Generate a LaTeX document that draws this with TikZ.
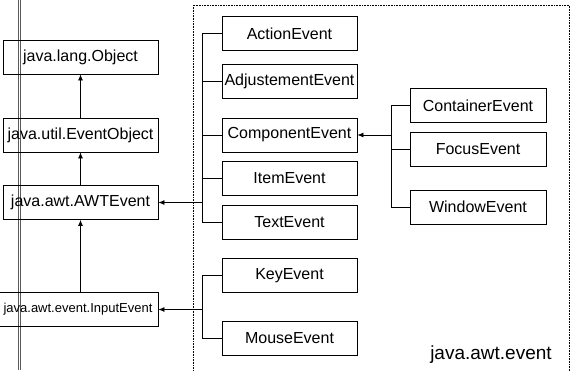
\documentclass[tikz,border=0pt]{standalone}
\usepackage{fontspec}
\setmainfont{Liberation Sans}
\usepackage{tikz}
\usetikzlibrary{arrows.meta, positioning}

\begin{document}
\begin{tikzpicture}[
    x=1pt, y=-1pt,
    line width=0.8pt,
    box/.style={rectangle, draw=black, minimum width=135pt, minimum height=34pt, inner sep=0pt, font=\fontsize{16}{18}\selectfont},
    basebox/.style={box, minimum width=155pt},
    subbox/.style={box, minimum width=136pt},
    arrow/.style={-{Latex[length=6pt,width=5pt]}}
]
\useasboundingbox (0,0) rectangle (571,370);

% page margin of the scan
\draw[gray!70!black, line width=0.7pt] (18.5,0) -- (18.5,370);
\draw[gray!70!black, line width=0.7pt] (20.7,0) -- (20.7,370);

% package frame
\draw[densely dotted, line width=0.6pt] (193,372) -- (193,5) -- (569.5,5) -- (569.5,372);
\node[font=\fontsize{19}{21}\selectfont] (pkg) at (491,355) {java.awt.event};

% base classes
\node[basebox] (object) at (80.5,57) {java.lang.Object};
\node[basebox] (eventobj) at (80.5,135) {java.util.EventObject};
\node[basebox] (awt) at (80.5,202.5) {java.awt.AWTEvent};
\node[basebox, minimum width=160pt, font=\fontsize{13}{15}\selectfont] (input) at (78,309.5) {java.awt.event.InputEvent};

% event classes
\node[box] (action) at (289.5,33.5) {ActionEvent};
\node[box] (adjust) at (289.5,81) {AdjustementEvent};
\node[box] (component) at (289.5,135) {ComponentEvent};
\node[box] (item) at (289.5,178.5) {ItemEvent};
\node[box] (text) at (289.5,222) {TextEvent};
\node[box] (key) at (289.5,275.5) {KeyEvent};
\node[box] (mouse) at (289.5,338) {MouseEvent};

\node[subbox] (container) at (478,105.5) {ContainerEvent};
\node[subbox] (focus) at (478,149.5) {FocusEvent};
\node[subbox] (window) at (478,207) {WindowEvent};

\coordinate (busA) at (202,0);
\coordinate (busC) at (391,0);

% inheritance
\draw[arrow] (eventobj) -- (object);
\draw[arrow] (awt) -- (eventobj);
\draw[arrow] (input.north -| awt.south) -- (awt.south);

\foreach \n in {action,adjust,component,item,text,key,mouse}
    \draw (\n.west) -- (\n.west -| busA);
\draw (busA |- action.west) -- (busA |- text.west);
\draw[arrow] (awt.east -| busA) -- (awt.east);
\draw (busA |- key.west) -- (busA |- mouse.west);
\draw[arrow] (input.east -| busA) -- (input.east);

\foreach \n in {container,focus,window}
    \draw (\n.west) -- (\n.west -| busC);
\draw (busC |- container.west) -- (busC |- window.west);
\draw[arrow] (component.east -| busC) -- (component.east);
\end{tikzpicture}
\end{document}
